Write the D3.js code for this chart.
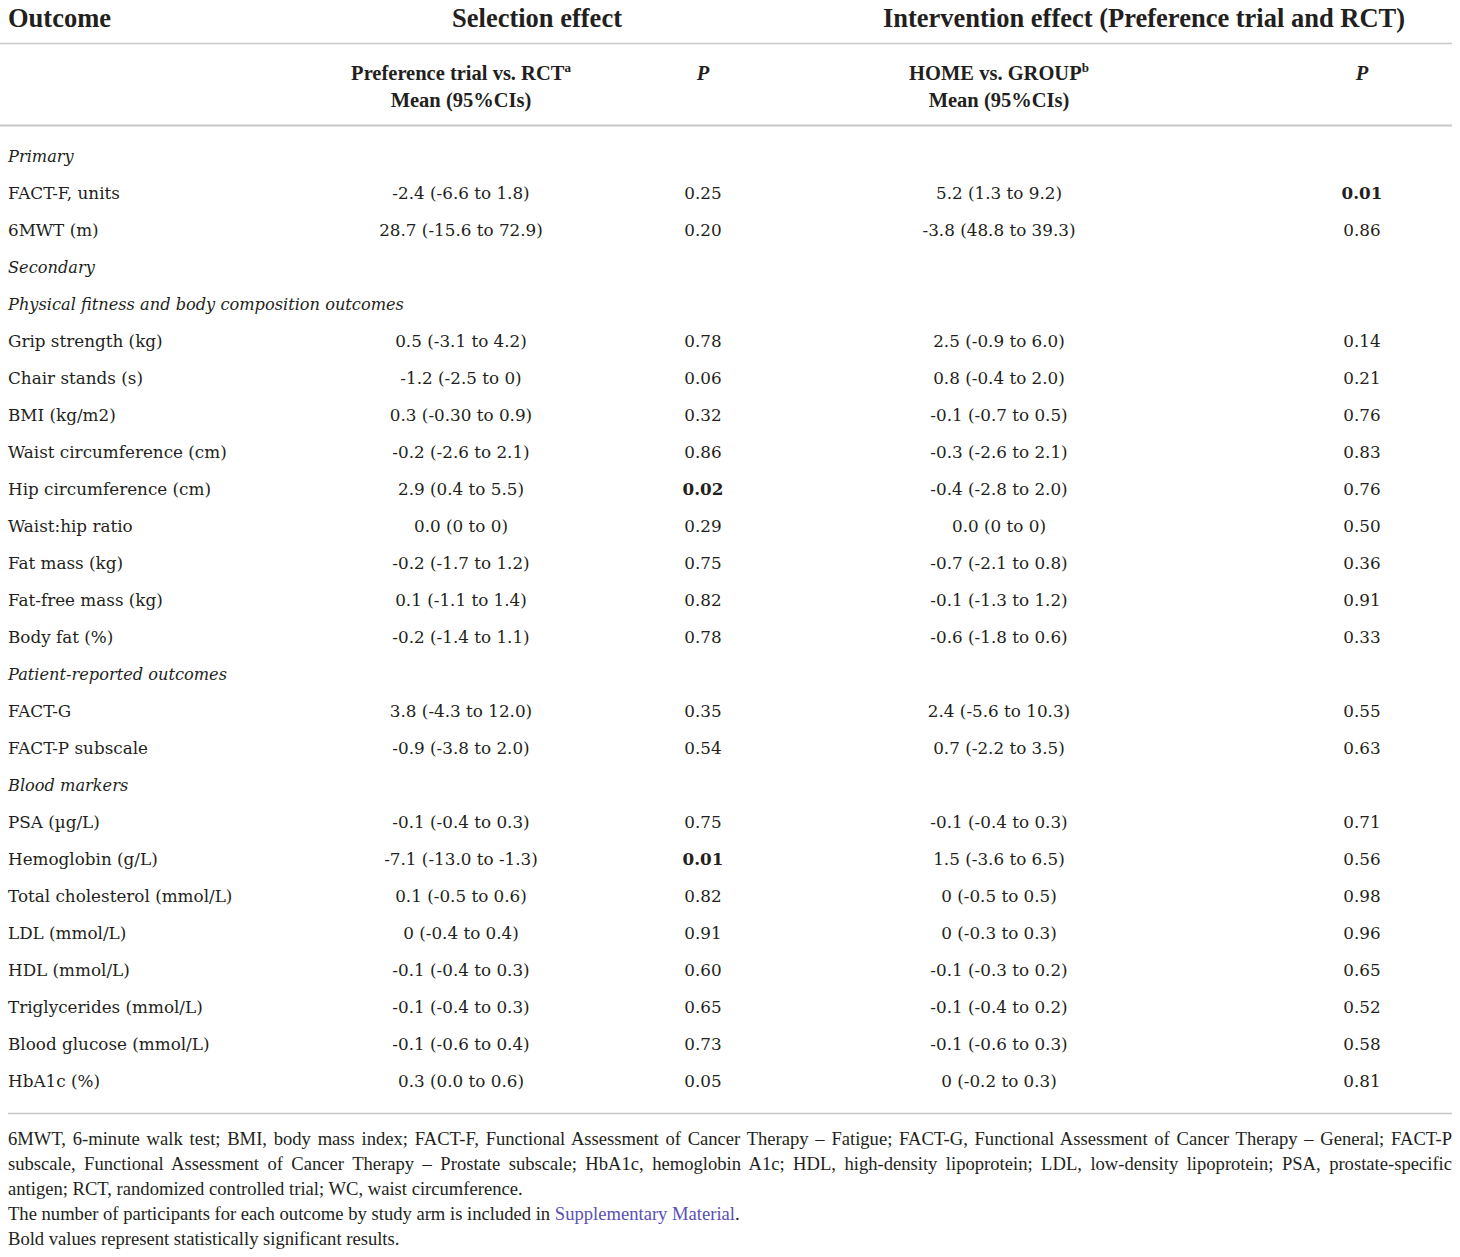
<!DOCTYPE html>
<html lang="en">
<head>
    <meta charset="UTF-8">
    <title>Selection and intervention effects</title>
    <script src="https://d3js.org/d3.v7.min.js"></script>
    <style>
        body { margin: 0; background: #fff; }
        text { fill: #231f20; }
    </style>
</head>
<body>
    <svg id="chart"></svg>
    <script>
        // table content
        const outcomes = [
            "Primary", "FACT-F, units", "6MWT (m)", "Secondary",
            "Physical fitness and body composition outcomes",
            "Grip strength (kg)", "Chair stands (s)", "BMI (kg/m2)", "Waist circumference (cm)",
            "Hip circumference (cm)", "Waist:hip ratio", "Fat mass (kg)", "Fat-free mass (kg)", "Body fat (%)",
            "Patient-reported outcomes", "FACT-G", "FACT-P subscale",
            "Blood markers", "PSA (\u00b5g/L)", "Hemoglobin (g/L)", "Total cholesterol (mmol/L)",
            "LDL (mmol/L)", "HDL (mmol/L)", "Triglycerides (mmol/L)", "Blood glucose (mmol/L)", "HbA1c (%)"
        ];
        const sections = ["Primary", "Secondary", "Physical fitness and body composition outcomes",
            "Patient-reported outcomes", "Blood markers"];

        const selectionMean = [
            "", "-2.4 (-6.6 to 1.8)", "28.7 (-15.6 to 72.9)", "", "",
            "0.5 (-3.1 to 4.2)", "-1.2 (-2.5 to 0)", "0.3 (-0.30 to 0.9)", "-0.2 (-2.6 to 2.1)",
            "2.9 (0.4 to 5.5)", "0.0 (0 to 0)", "-0.2 (-1.7 to 1.2)", "0.1 (-1.1 to 1.4)", "-0.2 (-1.4 to 1.1)",
            "", "3.8 (-4.3 to 12.0)", "-0.9 (-3.8 to 2.0)",
            "", "-0.1 (-0.4 to 0.3)", "-7.1 (-13.0 to -1.3)", "0.1 (-0.5 to 0.6)",
            "0 (-0.4 to 0.4)", "-0.1 (-0.4 to 0.3)", "-0.1 (-0.4 to 0.3)", "-0.1 (-0.6 to 0.4)", "0.3 (0.0 to 0.6)"
        ];
        const selectionP = [
            "", "0.25", "0.20", "", "",
            "0.78", "0.06", "0.32", "0.86", "0.02", "0.29", "0.75", "0.82", "0.78",
            "", "0.35", "0.54",
            "", "0.75", "0.01", "0.82", "0.91", "0.60", "0.65", "0.73", "0.05"
        ];
        const interventionMean = [
            "", "5.2 (1.3 to 9.2)", "-3.8 (48.8 to 39.3)", "", "",
            "2.5 (-0.9 to 6.0)", "0.8 (-0.4 to 2.0)", "-0.1 (-0.7 to 0.5)", "-0.3 (-2.6 to 2.1)",
            "-0.4 (-2.8 to 2.0)", "0.0 (0 to 0)", "-0.7 (-2.1 to 0.8)", "-0.1 (-1.3 to 1.2)", "-0.6 (-1.8 to 0.6)",
            "", "2.4 (-5.6 to 10.3)", "0.7 (-2.2 to 3.5)",
            "", "-0.1 (-0.4 to 0.3)", "1.5 (-3.6 to 6.5)", "0 (-0.5 to 0.5)",
            "0 (-0.3 to 0.3)", "-0.1 (-0.3 to 0.2)", "-0.1 (-0.4 to 0.2)", "-0.1 (-0.6 to 0.3)", "0 (-0.2 to 0.3)"
        ];
        const interventionP = [
            "", "0.01", "0.86", "", "",
            "0.14", "0.21", "0.76", "0.83", "0.76", "0.50", "0.36", "0.91", "0.33",
            "", "0.55", "0.63",
            "", "0.71", "0.56", "0.98", "0.96", "0.65", "0.52", "0.58", "0.81"
        ];
        const boldSelection = ["Hip circumference (cm)", "Hemoglobin (g/L)"];
        const boldIntervention = ["FACT-F, units"];

        const footnotes = [
            "6MWT, 6-minute walk test; BMI, body mass index; FACT-F, Functional Assessment of Cancer Therapy \u2013 Fatigue; FACT-G, Functional Assessment of Cancer Therapy \u2013 General; FACT-P",
            "subscale, Functional Assessment of Cancer Therapy \u2013 Prostate subscale; HbA1c, hemoglobin A1c; HDL, high-density lipoprotein; LDL, low-density lipoprotein; PSA, prostate-specific",
            "antigen; RCT, randomized controlled trial; WC, waist circumference."
        ];

        const width = 1460, height = 1257;
        const serif = "'Liberation Serif', 'DejaVu Serif', serif";
        const bodySerif = "'DejaVu Serif', 'Liberation Serif', serif";

        const svg = d3.select("#chart")
                      .attr("width", width)
                      .attr("height", height)
                      .style("display", "block");

        const col = d3.scaleOrdinal()
                      .domain(["outcome", "selMean", "selP", "intMean", "intP"])
                      .range([8, 461, 703, 999, 1362]);

        const y = d3.scalePoint()
                    .domain(d3.range(outcomes.length))
                    .range([156, 1081]);

        // header
        const head = svg.append("g")
                        .style("font-family", serif).style("font-size", "26.5px").style("font-weight", "bold");
        head.append("text").attr("x", 8).attr("y", 27).text("Outcome");
        head.append("text").attr("x", 537).attr("y", 27).attr("text-anchor", "middle").text("Selection effect");
        head.append("text").attr("x", 1144).attr("y", 27).attr("text-anchor", "middle")
            .text("Intervention effect (Preference trial and RCT)");

        svg.append("line").attr("x1", 0).attr("x2", 1452).attr("y1", 43.5).attr("y2", 43.5)
           .attr("stroke", "#c8c8c8").attr("stroke-width", 1.5);

        const sub = [
            { x: col("selMean"), lines: [["Preference trial vs. RCT", "a"], ["Mean (95%CIs)"]] },
            { x: col("intMean"), lines: [["HOME vs. GROUP", "b"], ["Mean (95%CIs)"]] }
        ];
        sub.forEach(s => {
            s.lines.forEach((l, i) => {
                const t = svg.append("text").attr("x", s.x).attr("y", 80 + i * 27)
                             .attr("text-anchor", "middle")
                             .style("font-family", serif).style("font-size", "20.5px").style("font-weight", "bold")
                             .text(l[0]);
                if (l[1]) t.append("tspan").attr("dy", -8).style("font-size", "13px").text(l[1]);
            });
        });
        ["selP", "intP"].forEach(c => {
            svg.append("text").attr("x", col(c)).attr("y", 80).attr("text-anchor", "middle")
               .style("font-family", serif).style("font-size", "20.5px")
               .style("font-weight", "bold").style("font-style", "italic")
               .text("P");
        });

        svg.append("line").attr("x1", 0).attr("x2", 1452).attr("y1", 125.5).attr("y2", 125.5)
           .attr("stroke", "#c8c8c8").attr("stroke-width", 2);

        // body rows
        const rows = outcomes.map((o, i) => ({
            label: o, i,
            section: sections.includes(o),
            selMean: selectionMean[i], selP: selectionP[i],
            intMean: interventionMean[i], intP: interventionP[i]
        }));

        const row = svg.selectAll(".row")
                       .data(rows)
                       .enter()
                       .append("g")
                       .attr("class", "row")
                       .attr("transform", d => `translate(0,${y(d.i)})`)
                       .style("font-family", bodySerif)
                       .style("font-size", "16.8px");

        row.append("text")
           .attr("x", col("outcome")).attr("dy", "0.35em")
           .style("font-style", d => d.section ? "italic" : "normal")
           .style("font-size", d => d.section ? "16.2px" : null)
           .text(d => d.label);

        const cells = [
            { key: "selMean", bold: () => false },
            { key: "selP", bold: d => boldSelection.includes(d.label) },
            { key: "intMean", bold: () => false },
            { key: "intP", bold: d => boldIntervention.includes(d.label) }
        ];
        cells.forEach(c => {
            row.append("text")
               .attr("x", col(c.key)).attr("dy", "0.35em")
               .attr("text-anchor", "middle")
               .style("font-weight", d => c.bold(d) ? "bold" : "normal")
               .text(d => d[c.key]);
        });

        // footnotes
        svg.append("line").attr("x1", 8).attr("x2", 1452).attr("y1", 1113.5).attr("y2", 1113.5)
           .attr("stroke", "#c8c8c8").attr("stroke-width", 1.5);

        const foot = svg.append("g")
                        .style("font-family", serif)
                        .style("font-size", "18.6px");
        footnotes.forEach((f, i) => {
            const t = foot.append("text").attr("x", 8).attr("y", 1138 + i * 25).attr("dy", "0.35em").text(f);
            if (i < 2) {
                // justify the wrapped lines by widening the word gaps
                const gaps = f.split(" ").length - 1;
                const extra = 1444 - t.node().getComputedTextLength();
                if (extra > 0) t.style("word-spacing", `${extra / gaps}px`);
                else t.attr("textLength", 1444).attr("lengthAdjust", "spacingAndGlyphs");
            }
        });
        const sup = foot.append("text").attr("x", 8).attr("y", 1213).attr("dy", "0.35em")
                        .text("The number of participants for each outcome by study arm is included in ");
        sup.append("tspan").style("fill", "#5a50b4").text("Supplementary Material");
        sup.append("tspan").text(".");
        foot.append("text").attr("x", 8).attr("y", 1238).attr("dy", "0.35em")
            .text("Bold values represent statistically significant results.");
    </script>
</body>
</html>
